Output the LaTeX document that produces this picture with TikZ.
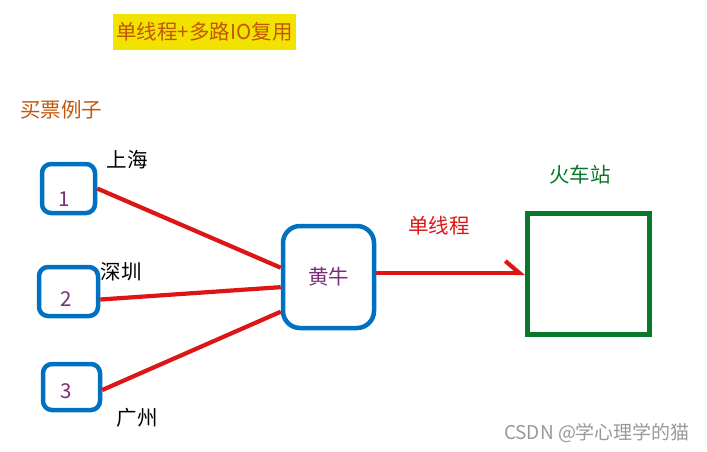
\documentclass[tikz,border=0pt]{standalone}
\usepackage{fontspec}
\setmainfont{Noto Sans CJK SC}
\usetikzlibrary{arrows.meta}
\definecolor{boxblue}{HTML}{0070C0}
\definecolor{linered}{HTML}{DD1515}
\definecolor{stgreen}{HTML}{08782A}
\definecolor{numpurple}{HTML}{7A2E78}
\definecolor{titlebrown}{HTML}{C4560A}
\definecolor{titleyellow}{HTML}{F2E200}

\begin{document}
\begin{tikzpicture}[x=1pt, y=-1pt, every node/.style={font=\fontsize{20.5}{20.5}\selectfont, inner sep=0pt},
  client/.style={draw=boxblue, line width=4.5pt, rounded corners=9pt},
  wire/.style={draw=linered, line width=4.2pt}]
  \useasboundingbox[fill=white] (0,0) rectangle (707,451);
  % title and heading
  \node[fill=titleyellow, text=titlebrown, minimum width=183pt, minimum height=36pt] (title) at (204.5,32) {单线程+多路IO复用};
  \node[text=titlebrown] (head) at (61,110) {买票例子};
  % clients
  \node[client, minimum width=53pt, minimum height=49pt] (c1) at (68.5,188.5) {};
  \node[client, minimum width=59pt, minimum height=49pt] (c2) at (68.5,291.5) {};
  \node[client, minimum width=57pt, minimum height=46pt] (c3) at (71.5,387) {};
  \node[text=numpurple] at (64,199) {1};
  \node[text=numpurple] at (66,299) {2};
  \node[text=numpurple] at (66,391) {3};
  \node (sh) at (127,160) {上海};
  \node (sz) at (121,272) {深圳};
  \node (gz) at (137,418) {广州};
  % scalper and station
  \node[client, rounded corners=17pt, minimum width=91pt, minimum height=102pt, text=numpurple] (hn) at (328.5,277) {黄牛};
  \node[draw=stgreen, line width=5pt, minimum width=122pt, minimum height=121pt] (st) at (588.5,274) {};
  \node[text=stgreen] (stlabel) at (580,175) {火车站};
  % connections
  \draw[wire] (c1.east) -- (hn.169);
  \draw[wire] ([yshift=-8pt]c2.east) -- (hn.192);
  \draw[wire] ([yshift=-3pt]c3.east) -- (hn.216);
  \draw[wire, -{Straight Barb[left, length=14pt, width=24pt]}] (hn.east |- 0,273) -- (st.west |- 0,273);
  \node[text=linered] (single) at (439,226) {单线程};
  \node[text=black!40, font=\fontsize{19}{19}\selectfont] (mark) at (597,433) {CSDN @学心理学的猫};
\end{tikzpicture}
\end{document}
